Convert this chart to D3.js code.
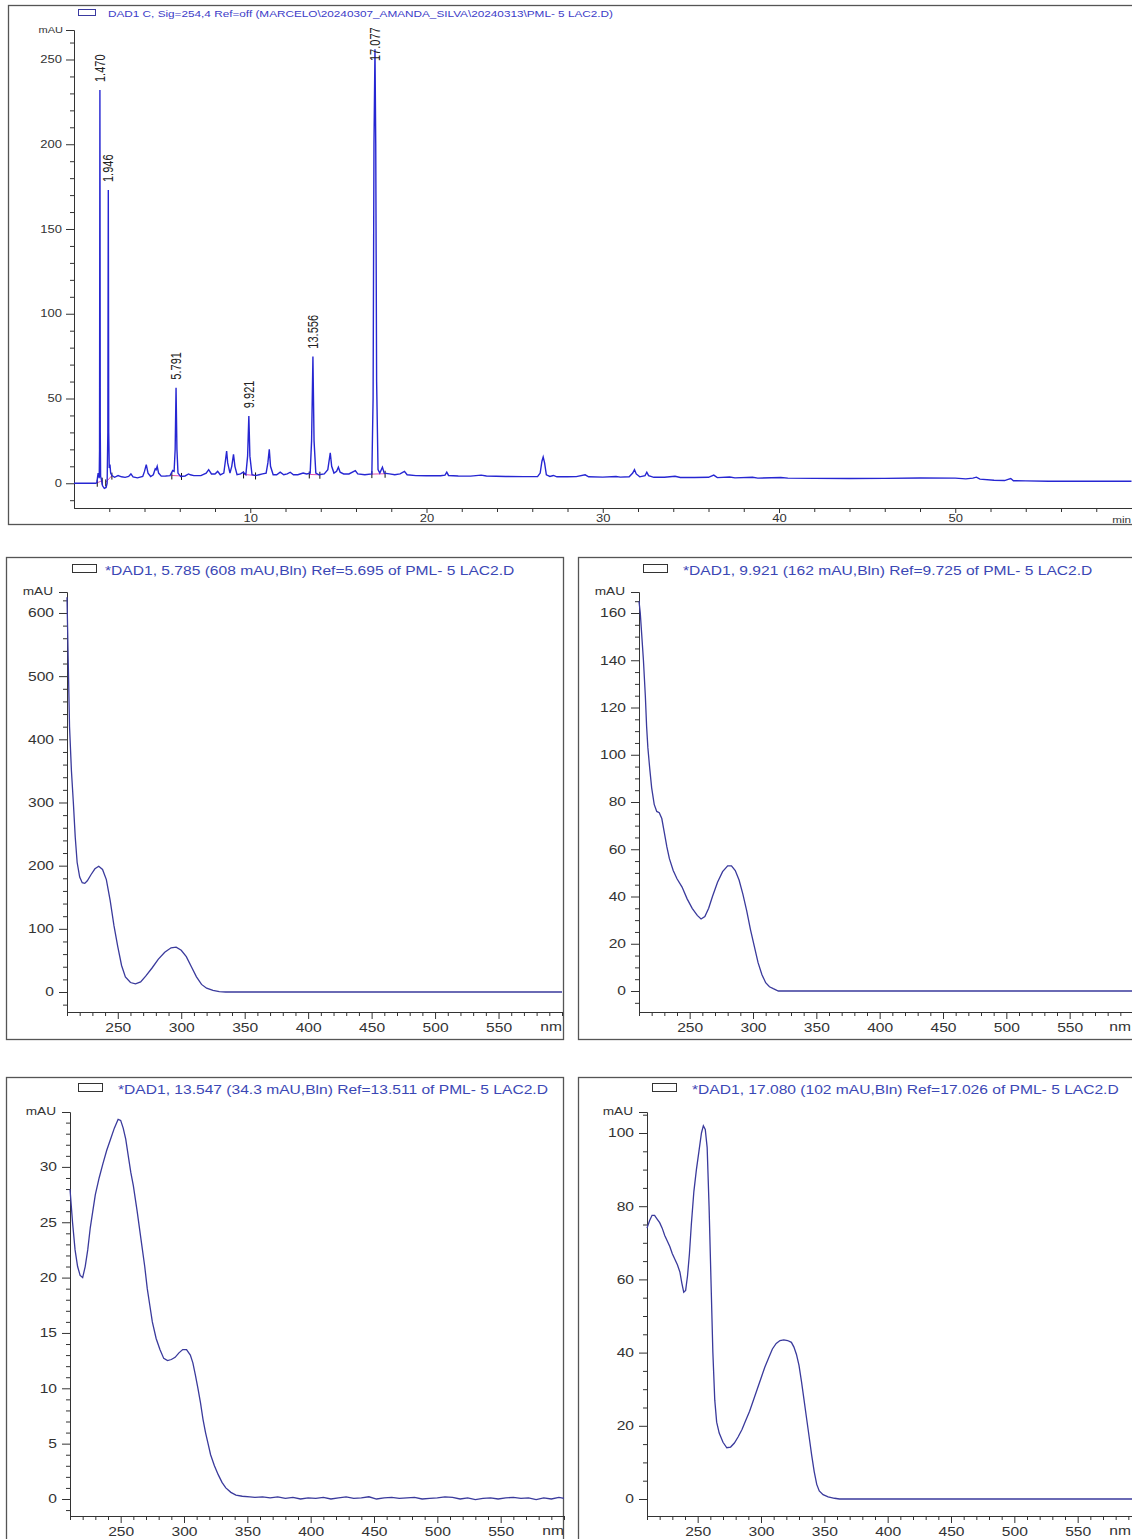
<!DOCTYPE html>
<html>
<head>
<meta charset="utf-8">
<script src="https://cdn.jsdelivr.net/npm/d3@7"></script>
<style>
body{margin:0;background:#fff;}
svg{display:block;font-family:Arial,"Liberation Sans",sans-serif;}
</style>
</head>
<body>
<svg width="1132" height="1539"></svg>
<script>
// the printout is stretched sideways, text gets the same stretch
const SX = 1.3

// ---- chromatogram (time in min, signal in mAU) ----
const chromTitle = "DAD1 C, Sig=254,4 Ref=off (MARCELO\\20240307_AMANDA_SILVA\\20240313\\PML- 5 LAC2.D)"
const chromTrace = [
  [0,0],[1.25,0],[1.30,0.5],[1.34,4],[1.37,6],[1.40,5],[1.43,3],[1.45,20],[1.47,232],[1.49,30],[1.51,4],
  [1.55,2.5],[1.62,-1.5],[1.72,-3],[1.82,-2.5],[1.88,0],[1.92,30],[1.946,173],[1.97,30],[2.0,9],[2.04,11],
  [2.08,6],[2.15,4.5],[2.3,3.5],[2.5,4.5],[2.7,3.8],[2.9,3.5],[3.1,4],[3.23,5.5],[3.35,3.8],[3.6,3.2],[3.9,4],
  [4.0,7],[4.1,11],[4.2,6],[4.35,4],[4.5,5],[4.61,8.5],[4.66,8],[4.72,10],[4.8,6],[4.95,4.2],[5.2,4.3],
  [5.45,4.5],[5.6,7.5],[5.68,7],[5.74,20],[5.79,56.4],[5.84,20],[5.9,6],[6.05,4],[6.3,4.3],[6.5,5.5],[6.6,5],
  [6.8,4.5],[7.2,4.5],[7.5,6],[7.64,8],[7.8,5.5],[8.0,5.5],[8.15,7],[8.3,5],[8.5,6],[8.6,14],[8.66,19],
  [8.72,12],[8.85,6],[8.95,10],[9.05,17],[9.13,10],[9.25,5],[9.45,5.5],[9.6,6.5],[9.75,5],[9.85,16],
  [9.92,39.6],[9.98,16],[10.1,5],[10.3,4.5],[10.5,5],[10.7,5.5],[10.9,6],[11.0,12],[11.08,20],[11.15,10],
  [11.3,5],[11.5,5],[11.7,6.5],[11.9,5],[12.1,5.5],[12.27,6.5],[12.45,5],[12.7,5],[13.0,6],[13.2,5.5],
  [13.4,6],[13.48,25],[13.556,74.7],[13.62,25],[13.72,6],[13.9,5],[14.2,5.5],[14.4,8],[14.54,18],[14.62,10],
  [14.75,6],[14.9,7],[15.0,9.5],[15.1,6.5],[15.3,5.5],[15.6,5.5],[15.96,7.5],[16.1,5.5],[16.5,5],[16.9,5.5],
  [16.97,50],[17.02,200],[17.077,256],[17.12,200],[17.17,60],[17.25,8],[17.35,6],[17.5,9.5],[17.6,6],
  [17.9,5.5],[18.2,5],[18.5,5.5],[18.75,7],[18.9,5],[19.4,4.5],[20,4.4],[20.8,4.4],[21.05,4.8],[21.15,6.5],
  [21.25,4.6],[21.8,4.3],[22.5,4.2],[23.1,4.8],[23.4,4.3],[24.5,4.0],[25.5,3.9],[26.3,3.9],[26.45,6],
  [26.55,13],[26.62,15.5],[26.7,12],[26.8,5],[27.0,4],[27.2,4.6],[27.4,3.8],[28.0,3.8],[28.5,3.9],[29.0,5],
  [29.2,3.8],[30.0,3.6],[30.75,4],[31.0,3.6],[31.5,3.8],[31.7,6],[31.8,8],[31.9,5.5],[32.1,3.8],[32.4,4.5],
  [32.5,6.5],[32.6,4.5],[32.9,3.5],[33.5,3.5],[34.1,4.1],[34.4,3.4],[35.2,3.4],[36.0,3.5],[36.3,4.8],
  [36.5,3.3],[37.2,3.7],[37.5,3.2],[38.5,3.5],[38.8,3.0],[40.1,3.4],[40.5,3.0],[42,2.9],[44,2.8],[46,2.9],
  [48,3.1],[50,3.0],[50.6,2.6],[51.0,3.0],[51.2,3.6],[51.4,2.4],[52.2,1.8],[52.8,1.6],[53.0,2.3],[53.15,2.8],
  [53.3,1.5],[54.0,1.4],[55.3,1.2],[60,1.2]
]
const peakTimes = [1.470, 1.946, 5.791, 9.921, 13.556, 17.077]
const peakHeights = [232, 173, 56.4, 39.6, 74.7, 256]
// integration baselines: start time, start mAU, end time, end mAU
const integBaselines = [[1.32,0.3,1.60,1.5],[1.80,0.5,2.15,4.5],[5.55,4.6,6.10,4.3],[9.62,5.2,10.30,4.6],[13.35,5.2,13.95,5.0],[16.90,5.4,17.65,5.6]]
const chromYTicks = [0,50,100,150,200,250]
const chromXTicks = [10,20,30,40,50]

// ---- UV spectra (nm, mAU) ----
const nmTicks = [250,300,350,400,450,500,550]

const spec1Title = "*DAD1, 5.785 (608 mAU,Bln) Ref=5.695 of PML- 5 LAC2.D"
const spec1YTicks = [0,100,200,300,400,500,600]
const spec1 = [[210,625],[211,520],[212,420],[213.5,350],[215,300],[216.5,245],[218,205],[220,182],[222,173],
  [224,172],[226,176],[229,186],[232,195],[235,199],[238,194],[241,178],[244,145],[247,105],[250,72],[253,42],
  [256,24],[260,15],[264,13],[268,16],[272,25],[277,38],[282,52],[287,63],[292,70],[296,71],[300,66],[304,56],
  [308,40],[312,24],[316,12],[320,6],[325,2.5],[330,0.5],[335,0],[600,0]]

const spec2Title = "*DAD1, 9.921 (162 mAU,Bln) Ref=9.725 of PML- 5 LAC2.D"
const spec2YTicks = [0,20,40,60,80,100,120,140,160]
const spec2 = [[210,165],[211,160],[212,152],[213.5,140],[215,125],[216,112],[217,103],[218.5,94],[220,86],
  [222,79],[224,76],[226,75.5],[228,73],[230,67],[232,61],[234,56],[237,51],[240,47.5],[244,44],[248,39],
  [252,35],[256,32],[259,30.5],[262,31.5],[265,35],[268,40],[272,46],[276,50.5],[280,53],[283,53],[286,51],
  [289,47],[292,41],[295,34],[298,26],[301,19],[304,12],[307,7],[310,3.5],[313,1.8],[316,1],[320,0],[600,0]]

const spec3Title = "*DAD1, 13.547 (34.3 mAU,Bln) Ref=13.511 of PML- 5 LAC2.D"
const spec3YTicks = [0,5,10,15,20,25,30]
const spec3 = [[210,28],[212,25],[214,22.5],[216,21],[218,20.2],[220,20],[222,21],[224,22.5],[226,24.5],
  [228,26],[230,27.5],[233,29],[236,30.3],[239,31.5],[242,32.5],[245,33.5],[248,34.3],[250,34.2],[252,33.5],
  [254,32.5],[256,31],[258,29.5],[260,28.3],[263,26],[266,23.5],[269,21],[271,19],[273,17.5],[275,16],
  [278,14.5],[281,13.5],[284,12.7],[287,12.5],[290,12.6],[293,12.8],[296,13.2],[299,13.5],[302,13.5],
  [305,13],[307,12.3],[309,11.2],[311,10],[313,8.7],[315,7.2],[317,6],[319,5],[321,4],[324,3],[327,2.2],
  [330,1.5],[333,1],[337,0.6],[341,0.35],[346,0.25],[352,0.2],[356,0.15],[362,0.2],[368,0.1],[374,0.2],
  [380,0.05],[386,0.15],[392,0],[398,0.1],[404,0.05],[410,0.15],[416,0],[422,0.1],[428,0.2],[434,0.05],
  [440,0.1],[446,0.2],[452,0],[458,0.1],[464,0.15],[470,0.05],[476,0.1],[482,0.15],[488,0],[494,0.05],
  [500,0.1],[506,0.2],[512,0.15],[518,0],[524,0.1],[530,-0.05],[536,0.05],[542,0.1],[548,0],[554,0.1],
  [560,0.15],[566,0.05],[572,0.1],[578,-0.05],[584,0.1],[590,0],[596,0.15],[600,0.05]]

const spec4Title = "*DAD1, 17.080 (102 mAU,Bln) Ref=17.026 of PML- 5 LAC2.D"
const spec4YTicks = [0,20,40,60,80,100]
const spec4 = [[210,74],[212,76],[214,77.5],[216,77.5],[218,76.5],[220,75.5],[222,74],[224,72],[226,70.5],
  [228,69],[230,67],[232,65.5],[234,64],[236,62],[237.5,59],[239,56.5],[240.5,57],[242,61],[243.5,67],
  [245,75],[247,84],[249,90],[251,95],[253,100],[254.5,102],[256,101],[257.5,96],[259,80],[260.5,60],
  [262,40],[263.5,27],[265,21],[267,18],[270,15.5],[273,14],[276,14.2],[279,15.3],[282,17],[285,19],
  [288,21.5],[291,24],[294,27],[297,30],[300,33],[303,36],[306,38.5],[309,41],[312,42.5],[315,43.3],
  [318,43.5],[321,43.3],[324,42.8],[326,41.5],[328,39.5],[330,36.5],[332,32],[334,27],[336,22],[338,17],
  [340,12],[342,7.5],[344,4],[346,2.2],[349,1.2],[353,0.6],[358,0.2],[362,0],[600,0]]


const svg = d3.select("svg")

function stretch(sel){
    sel.each(function(){
        const t = d3.select(this)
        const x = +(t.attr("x") || 0)
        t.attr("transform", `translate(${x*(1-SX)},0) scale(${SX},1)`)
    })
}

function styleAxis(a, fs){
    a.attr("font-family", null).attr("font-size", fs)
    a.select(".domain").attr("stroke", "#333")
    a.selectAll(".tick line").attr("stroke", "#333")
    a.selectAll(".tick text").attr("fill", "#333")
    stretch(a.selectAll(".tick text"))
}

function minorTicks(dom, step, major){
    const out = []
    for (let v = Math.ceil(dom[0]/step)*step; v <= dom[1]; v += step) {
        if (major.indexOf(v) < 0) out.push(v)
    }
    return out
}

// ================= chromatogram =================
const chrom = svg.append("g")
chrom.append("rect").attr("x", 8.5).attr("y", 5.5).attr("width", 1140).attr("height", 519)
    .attr("fill", "none").attr("stroke", "#555").attr("stroke-width", 1.3)

const xT = d3.scaleLinear().domain([0, 60]).range([74, 1131.5])
const yT = d3.scaleLinear().domain([-14.6, 267.4]).range([508, 30])

chrom.append("rect").attr("x", 78.5).attr("y", 9.5).attr("width", 17).attr("height", 6)
    .attr("fill", "none").attr("stroke", "#3a3aa0")
chrom.append("text").attr("x", 108).attr("y", 16.5).attr("font-size", 9)
    .attr("textLength", 505).attr("lengthAdjust", "spacingAndGlyphs")
    .attr("fill", "#3c3cc8").text(chromTitle)

let a = chrom.append("g").attr("transform", "translate(74,0)")
    .call(d3.axisLeft(yT).tickValues(minorTicks(yT.domain(), 10, chromYTicks)).tickSize(4).tickFormat("").tickSizeOuter(0))
styleAxis(a, 10)
a = chrom.append("g").attr("transform", "translate(74,0)")
    .call(d3.axisLeft(yT).tickValues(chromYTicks).tickSize(8).tickPadding(4).tickFormat(d => d).tickSizeOuter(0))
styleAxis(a, 10)
chrom.append("line").attr("x1", 66).attr("x2", 74).attr("y1", yT(267.4)+0.5).attr("y2", yT(267.4)+0.5).attr("stroke", "#333")
chrom.append("text").attr("x", 63).attr("y", 33).attr("font-size", 8.5).attr("text-anchor", "end")
    .attr("fill", "#333").text("mAU").call(stretch)

a = chrom.append("g").attr("transform", "translate(0,508)")
    .call(d3.axisBottom(xT).tickValues(minorTicks([2, 58], 2, chromXTicks)).tickSize(4).tickFormat("").tickSizeOuter(0))
styleAxis(a, 10)
a = chrom.append("g").attr("transform", "translate(0,508)")
    .call(d3.axisBottom(xT).tickValues(chromXTicks).tickSize(5).tickPadding(2).tickFormat(d => d).tickSizeOuter(0))
styleAxis(a, 10)
chrom.append("text").attr("x", 1131).attr("y", 523).attr("font-size", 9).attr("text-anchor", "end")
    .attr("fill", "#333").text("min").call(stretch)

// integration baselines + marks
integBaselines.forEach(b => {
    chrom.append("line").attr("x1", xT(b[0])).attr("y1", yT(b[1])).attr("x2", xT(b[2])).attr("y2", yT(b[3]))
        .attr("stroke", "#e050b0").attr("stroke-width", 1)
    ;[[b[0], b[1]], [b[2], b[3]]].forEach(p => {
        chrom.append("line").attr("x1", xT(p[0])).attr("x2", xT(p[0])).attr("y1", yT(p[1]) - 3).attr("y2", yT(p[1]) + 4)
            .attr("stroke", "#111").attr("stroke-width", 1)
    })
})

const lineT = d3.line().x(d => xT(d[0])).y(d => yT(d[1]))
chrom.append("path").datum(chromTrace).attr("d", lineT)
    .attr("fill", "none").attr("stroke", "#2626d2").attr("stroke-width", 1.4)

peakTimes.forEach((t, i) => {
    const label = t.toFixed(3)
    const len = 33
    const bottom = Math.max(yT(peakHeights[i]) - 8, 28 + len)
    chrom.append("text")
        .attr("transform", `translate(${xT(t) + 5},${bottom}) scale(${SX},1) rotate(-90)`)
        .attr("font-size", 11).attr("fill", "#222").text(label)
})

// ================= spectra =================
const panels = [
    {data: spec1, title: spec1Title, yMajor: spec1YTicks, yStep: 20, frame: [6, 557, 563, 1039],
     x0: 67, x1: 562, yZero: 992, k: 0.6317, yTop: 592, yBottom: 1012, rectX: 72, textX: 105, titleY: 575},
    {data: spec2, title: spec2Title, yMajor: spec2YTicks, yStep: 5, frame: [578, 557, 1140, 1039],
     x0: 639, x1: 1133, yZero: 991, k: 2.3625, yTop: 592, yBottom: 1012, rectX: 643, textX: 683, titleY: 575},
    {data: spec3, title: spec3Title, yMajor: spec3YTicks, yStep: 1, frame: [6, 1077, 563, 1545],
     x0: 70, x1: 564, yZero: 1499, k: 11.07, yTop: 1112, yBottom: 1516, rectX: 78, textX: 118, titleY: 1094},
    {data: spec4, title: spec4Title, yMajor: spec4YTicks, yStep: 5, frame: [578, 1077, 1140, 1545],
     x0: 647, x1: 1141, yZero: 1499, k: 3.66, yTop: 1112, yBottom: 1516, rectX: 652, textX: 692, titleY: 1094}
]

panels.forEach(p => {
    const g = svg.append("g")
    g.append("rect").attr("x", p.frame[0] + 0.5).attr("y", p.frame[1] + 0.5)
        .attr("width", p.frame[2] - p.frame[0]).attr("height", p.frame[3] - p.frame[1])
        .attr("fill", "none").attr("stroke", "#555").attr("stroke-width", 1.3)

    const x = d3.scaleLinear().domain([210, 600]).range([p.x0, p.x1])
    const yDom = [(p.yZero - p.yBottom) / p.k, (p.yZero - p.yTop) / p.k]
    const y = d3.scaleLinear().domain(yDom).range([p.yBottom, p.yTop])

    g.append("rect").attr("x", p.rectX + 0.5).attr("y", p.titleY - 10.5).attr("width", 24).attr("height", 8)
        .attr("fill", "none").attr("stroke", "#333")
    g.append("text").attr("x", p.textX).attr("y", p.titleY).attr("font-size", 12)
        .attr("fill", "#3b47b5").text(p.title).call(stretch)

    let ax = g.append("g").attr("transform", `translate(${p.x0},0)`)
        .call(d3.axisLeft(y).tickValues(minorTicks(yDom, p.yStep, p.yMajor)).tickSize(4).tickFormat("").tickSizeOuter(0))
    styleAxis(ax, 12)
    ax = g.append("g").attr("transform", `translate(${p.x0},0)`)
        .call(d3.axisLeft(y).tickValues(p.yMajor).tickSize(8).tickPadding(5).tickFormat(d => d).tickSizeOuter(0))
    styleAxis(ax, 12)
    g.append("line").attr("x1", p.x0 - 8).attr("x2", p.x0).attr("y1", p.yTop + 0.5).attr("y2", p.yTop + 0.5).attr("stroke", "#333")
    g.append("text").attr("x", p.x0 - 14).attr("y", p.yTop + 3).attr("font-size", 10.5).attr("text-anchor", "end")
        .attr("fill", "#333").text("mAU").call(stretch)

    ax = g.append("g").attr("transform", `translate(0,${p.yBottom})`)
        .call(d3.axisBottom(x).tickValues(minorTicks([210, 600], 10, nmTicks)).tickSize(4).tickFormat("").tickSizeOuter(0))
    styleAxis(ax, 12)
    ax = g.append("g").attr("transform", `translate(0,${p.yBottom})`)
        .call(d3.axisBottom(x).tickValues(nmTicks).tickSize(7).tickPadding(4).tickFormat(d => d).tickSizeOuter(0))
    styleAxis(ax, 12)
    g.append("text").attr("x", Math.min(p.x1, 1131)).attr("y", p.yBottom + 19.5).attr("font-size", 12).attr("text-anchor", "end")
        .attr("fill", "#333").text("nm").call(stretch)

    const line = d3.line().x(d => x(d[0])).y(d => y(d[1]))
    g.append("path").datum(p.data).attr("d", line)
        .attr("fill", "none").attr("stroke", "#3a3a9c").attr("stroke-width", 1.3)
})
</script>
</body>
</html>
